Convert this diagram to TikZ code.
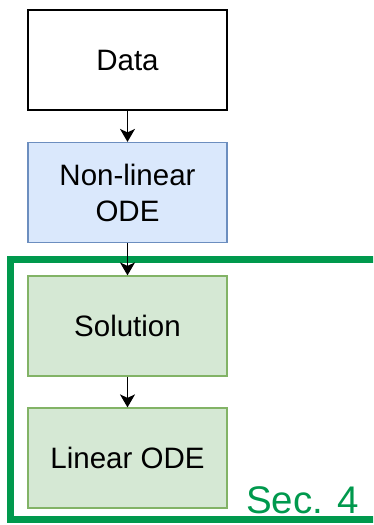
\documentclass[tikz,border=0pt]{standalone}
\usepackage{fontspec}
\setmainfont{Liberation Sans}
\usetikzlibrary{arrows.meta}
\definecolor{bluefill}{HTML}{DAE8FC}
\definecolor{bluedraw}{HTML}{6C8EBF}
\definecolor{greenfill}{HTML}{D5E8D4}
\definecolor{greendraw}{HTML}{82B366}
\definecolor{secgreen}{HTML}{00994D}
\tikzset{
  box/.style={rectangle, minimum width=199pt, minimum height=100pt, inner sep=0pt, align=center,
    font=\fontsize{29.5}{36}\selectfont},
  databox/.style={box, draw=black, line width=1.5pt, fill=white},
  bluebox/.style={box, draw=bluedraw, line width=1.2pt, fill=bluefill},
  greenbox/.style={box, draw=greendraw, line width=1.2pt, fill=greenfill},
  flow/.style={line width=1.4pt, -{Stealth[length=13pt,width=15pt,inset=3.5pt]}},
  frame/.style={draw=secgreen, line width=6.5pt}
}
\begin{document}
\begin{tikzpicture}[x=1pt,y=-1pt]
\useasboundingbox (0,0) rectangle (373,525);
\begin{scope}
\clip (0,0) rectangle (373,525);
\draw[frame] (390,259.5) -- (10.5,259.5) -- (10.5,519.5) -- (390,519.5);
\end{scope}
\node[databox] (data) at (127.5,60) {Data};
\node[bluebox] (nl) at (127.5,192.5) {Non-linear\\ODE};
\node[greenbox] (sol) at (127.5,326) {Solution};
\node[greenbox] (lin) at (127.5,458) {Linear ODE};
\node[anchor=base west, inner sep=0pt, text=secgreen, font=\fontsize{38.5}{44}\selectfont] (sec) at (246,513) {Sec. 4};
\draw[flow] (data) -- (nl);
\draw[flow] (nl) -- (sol);
\draw[flow] (sol) -- (lin);
\end{tikzpicture}
\end{document}
